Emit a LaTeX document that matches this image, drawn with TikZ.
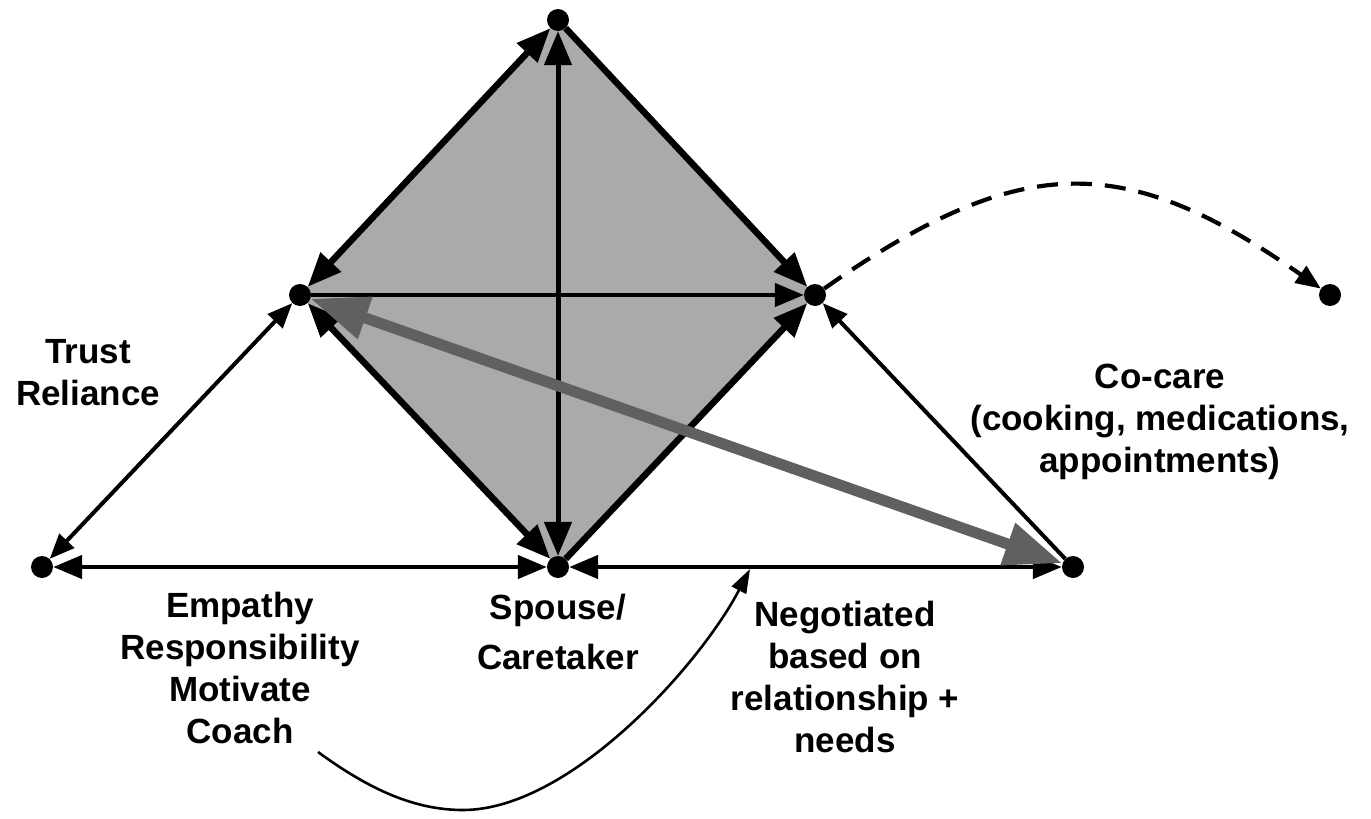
\documentclass[tikz,border=0pt]{standalone}
\usepackage{fontspec}
\setmainfont{Liberation Sans}
\usetikzlibrary{arrows.meta,backgrounds}
\definecolor{diamondgray}{HTML}{AAAAAA}
\definecolor{arrowgray}{HTML}{606060}
\tikzset{
  BigT/.tip={Triangle[length=34pt,width=27pt]},
  MidT/.tip={Triangle[length=29pt,width=23pt]},
  SmlT/.tip={Triangle[length=25pt,width=20pt]},
  GryT/.tip={Triangle[length=58pt,width=42pt]},
  ThnT/.tip={Triangle[length=24pt,width=16pt]},
  dot/.style={circle,fill=black,inner sep=0pt,minimum size=22pt},
  lbl/.style={font=\bfseries\fontsize{35}{42}\selectfont,align=center,inner sep=0pt},
  diamondedge/.style={line width=6.5pt},
  inneredge/.style={line width=5pt},
  outeredge/.style={line width=4pt},
  baseedge/.style={line width=4.6pt},
}
\begin{document}
\begin{tikzpicture}[x=1pt,y=-1pt]
\useasboundingbox (0,0) rectangle (1371,819);
\node[dot] (T) at (558,20) {};
\node[dot] (L) at (300,295) {};
\node[dot] (R) at (815,295) {};
\node[dot] (B) at (558,567) {};
\node[dot] (FL) at (42,567) {};
\node[dot] (FR) at (1073,567) {};
\node[dot] (D) at (1330,295) {};
\coordinate (cs) at (318,752);
\coordinate (cm) at (463,810);
\coordinate (ce) at (750,569);
\begin{scope}[on background layer]
\fill[diamondgray] (T.center) -- (R.center) -- (B.center) -- (L.center) -- cycle;
\end{scope}
% diamond
\draw[diamondedge,{BigT}-{BigT}] (T) -- (L);
\draw[diamondedge,-{BigT}] (T) -- (R);
\draw[diamondedge,{BigT}-{BigT}] (L) -- (B);
\draw[diamondedge,-{BigT}] (B) -- (R);
\draw[inneredge,{BigT}-{BigT}] (T) -- (B);
\draw[baseedge,-{MidT}] (L) -- (R);
% outer triangles
\draw[outeredge,{SmlT}-{SmlT}] (FL) -- (L);
\draw[baseedge,{MidT}-{MidT}] (FL) -- (B);
\draw[baseedge,{MidT}-{MidT}] (B) -- (FR);
\draw[outeredge,-{SmlT}] (FR) -- (R);
% gray arrow
\draw[arrowgray,line width=11pt,{GryT}-{GryT}] (L) -- (FR);
% dashed
\draw[line width=4.2pt,dash pattern=on 21pt off 13pt,-{SmlT}] (R) .. controls (1021,151) and (1124,151) .. (D);
% thin curve
\draw[line width=2.6pt,-{ThnT}] (cs) .. controls (370,790) and (415,810) .. (cm) .. controls (570,810) and (700,665) .. (ce);
% labels
\node[lbl] (ltrust) at (88,373) {Trust\\Reliance};
\node[lbl] (lcocare) at (1160,422) {Co-care\\(cooking, medications,\\appointments)};
\node[lbl] (lemp) at (240,668) {Empathy\\Responsibility\\Motivate\\Coach};
\node[lbl] (lspouse) at (558,632) {Spouse/\\[8pt]Caretaker};
\node[lbl] (lneg) at (845,677) {Negotiated\\based on\\relationship +\\needs};
\end{tikzpicture}
\end{document}
